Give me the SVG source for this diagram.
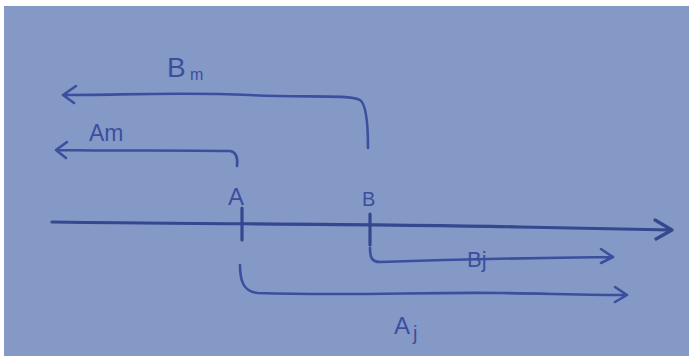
<svg xmlns="http://www.w3.org/2000/svg" width="689" height="356" viewBox="0 0 689 356">
<defs>
<style>
.ln{fill:none;stroke:#3b4f9e;stroke-width:2.6;stroke-linecap:round;stroke-linejoin:round}
.ax{fill:none;stroke:#34478f;stroke-width:3.2;stroke-linecap:round;stroke-linejoin:round}
.lb{font-family:"Liberation Sans",Arial,sans-serif;fill:#3b4f9e;font-size:22px}
</style>
</defs>
<rect width="689" height="356" fill="#ffffff"/>
<rect x="4" y="6" width="685" height="350" fill="#8599c7"/>
<g id="connectors">
<path class="ax" d="M52 222 C200 224 400 224 520 227 C600 229 640 229 672 230 M655 220 L672 230 L656 239"/>
<path class="ln" d="M368 148 C368 125 366 104 360 100 C350 94 300 98 250 95 C180 92 120 95 64 95 M76 86 L63 95 L74 103"/>
<path class="ln" d="M237 166 C238 158 236 152 230 151 C180 150 120 151 57 150 M67 142 L56 150 L66 158"/>
<path class="ln" d="M370 248 C370 256 371 262 380 262 C440 260 520 258 612 257 M601 249 L613 257 L601 263"/>
<path class="ln" d="M240 265 C240 280 243 292 258 293 C350 296 420 292 500 293 C560 294 600 295 627 295 M615 287 L627 295 L615 302"/>
</g>
<g id="tickA"><path class="ax" d="M242 208 L242 240"/></g>
<g id="tickB"><path class="ax" d="M370 214 L370 245"/></g>
<g id="labelA"><text class="lb" x="228" y="205" style="font-size:24px">A</text></g>
<g id="labelB"><text class="lb" x="362" y="206" style="font-size:20px">B</text></g>
<g id="labelBm"><text class="lb" x="167" y="77" style="font-size:28px">B</text><text class="lb" x="190" y="80" style="font-size:16px">m</text></g>
<g id="labelAm"><text class="lb" x="89" y="141" style="font-size:23px">Am</text></g>
<g id="labelBj"><text class="lb" x="467" y="267" style="font-size:22px">Bj</text></g>
<g id="labelAj"><text class="lb" x="394" y="334" style="font-size:24px">A</text><text class="lb" x="413" y="340" style="font-size:20px">j</text></g>
</svg>
